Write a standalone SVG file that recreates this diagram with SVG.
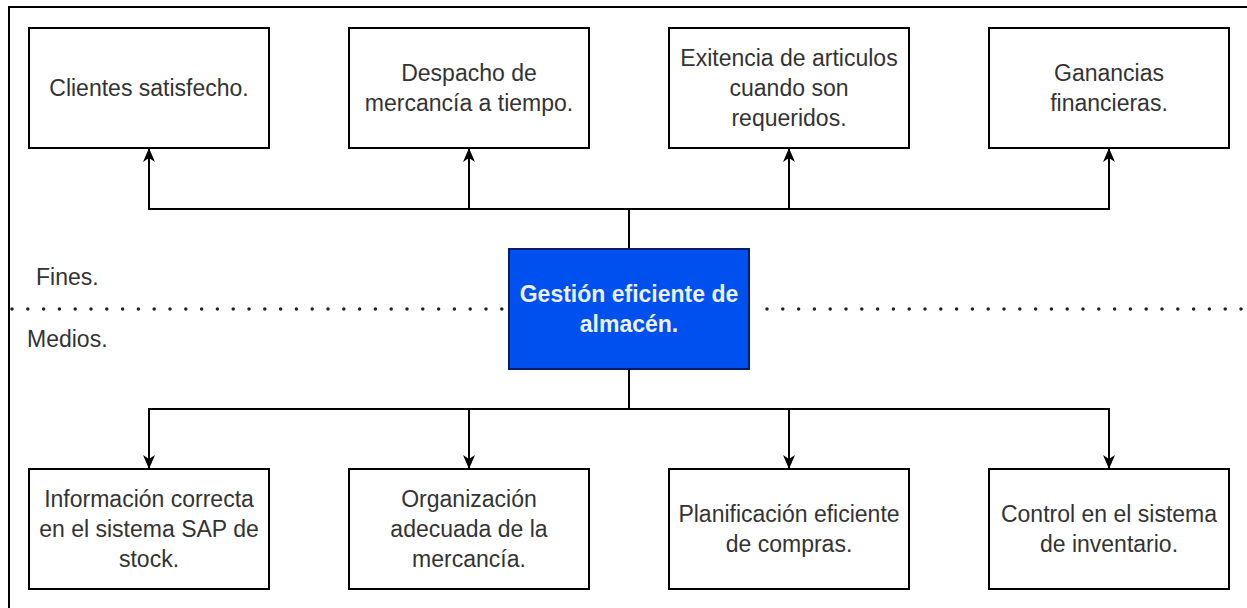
<svg xmlns="http://www.w3.org/2000/svg" width="1247" height="608" viewBox="0 0 1247 608">
<style>
.box{fill:#fff;stroke:#000;stroke-width:2}
.t{font-family:"Liberation Sans",Arial,sans-serif;font-size:23px;fill:#333;text-anchor:middle}
.lbl{font-family:"Liberation Sans",Arial,sans-serif;font-size:23px;fill:#333}
.c{fill:none;stroke:#000;stroke-width:2}
.ct{font-family:"Liberation Sans",Arial,sans-serif;font-size:23px;font-weight:bold;fill:#eaf1ff;text-anchor:middle}
.dot{fill:none;stroke:#222;stroke-width:3.5;stroke-linecap:round;stroke-dasharray:0 15.8}
</style>
<defs>
<marker id="arr" viewBox="0 0 14 14" refX="13" refY="7" markerWidth="14" markerHeight="14" markerUnits="userSpaceOnUse" orient="auto">
<path d="M0,1 L14,7 L0,13 L4,7 Z" fill="#000"/>
</marker>
</defs>
<rect x="0" y="0" width="1247" height="608" fill="#fff"/>
<path d="M9,608 V7 H1247" fill="none" stroke="#000" stroke-width="2"/>
<path class="dot" d="M12,309 H505"/>
<path class="dot" d="M767,309 H1247"/>
<text class="lbl" x="36" y="285">Fines.</text>
<text class="lbl" x="27" y="347">Medios.</text>
<g id="connectors">
<path class="c" d="M629,249 V209 H149 V149" marker-end="url(#arr)"/>
<path class="c" d="M469,209 V149" marker-end="url(#arr)"/>
<path class="c" d="M629,209 H789 V149" marker-end="url(#arr)"/>
<path class="c" d="M789,209 H1109 V149" marker-end="url(#arr)"/>
<path class="c" d="M629,369 V409 H149 V468" marker-end="url(#arr)"/>
<path class="c" d="M469,409 V468" marker-end="url(#arr)"/>
<path class="c" d="M629,409 H789 V468" marker-end="url(#arr)"/>
<path class="c" d="M789,409 H1109 V468" marker-end="url(#arr)"/>
</g>
<g id="center">
<rect x="509" y="249" width="240" height="120" fill="#0050ef" stroke="#001d6c" stroke-width="2"/>
<text class="ct" x="629" y="302">Gestión eficiente de</text>
<text class="ct" x="629" y="332">almacén.</text>
</g>
<g id="fin1"><rect class="box" x="29" y="28" width="240" height="120"/>
<text class="t" x="149" y="96">Clientes satisfecho.</text></g>
<g id="fin2"><rect class="box" x="349" y="28" width="240" height="120"/>
<text class="t" x="469" y="81">Despacho de</text><text class="t" x="469" y="111">mercancía a tiempo.</text></g>
<g id="fin3"><rect class="box" x="669" y="28" width="240" height="120"/>
<text class="t" x="789" y="66">Exitencia de articulos</text><text class="t" x="789" y="96">cuando son</text><text class="t" x="789" y="126">requeridos.</text></g>
<g id="fin4"><rect class="box" x="989" y="28" width="240" height="120"/>
<text class="t" x="1109" y="81">Ganancias</text><text class="t" x="1109" y="111">financieras.</text></g>
<g id="med1"><rect class="box" x="29" y="469" width="240" height="120"/>
<text class="t" x="149" y="507">Información correcta</text><text class="t" x="149" y="537">en el sistema SAP de</text><text class="t" x="149" y="567">stock.</text></g>
<g id="med2"><rect class="box" x="349" y="469" width="240" height="120"/>
<text class="t" x="469" y="507">Organización</text><text class="t" x="469" y="537">adecuada de la</text><text class="t" x="469" y="567">mercancía.</text></g>
<g id="med3"><rect class="box" x="669" y="469" width="240" height="120"/>
<text class="t" x="789" y="522">Planificación eficiente</text><text class="t" x="789" y="552">de compras.</text></g>
<g id="med4"><rect class="box" x="989" y="469" width="240" height="120"/>
<text class="t" x="1109" y="522">Control en el sistema</text><text class="t" x="1109" y="552">de inventario.</text></g>
</svg>
